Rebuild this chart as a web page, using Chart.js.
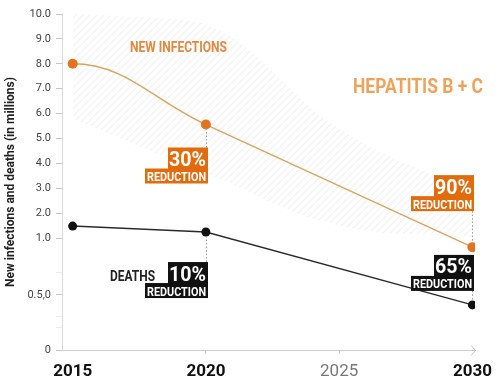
<!DOCTYPE html>
<html><head><meta charset="utf-8">
<script src="https://cdn.jsdelivr.net/npm/chart.js@4.4.0/dist/chart.umd.min.js"></script>
<style>html,body{margin:0;padding:0;background:#fff}#wrap{width:500px;height:383px;position:relative}</style>
</head><body><div id="wrap"><canvas id="c" width="500" height="383" style="width:500px;height:383px"></canvas></div>
<script>
// ---------- data ----------
const years = [2015, 2020, 2030];
const newInfections = [8.0, 5.56, 0.92];
const deaths = [1.48, 1.24, 0.41];

const bandYears = [2015, 2020, 2025, 2030];
const bandUpper = [10, 9.6, 5.4, 2.8];
const bandLower = [5.8, 3.6, 1.5, 1.05];

const yTickValues = [0, 0.2, 0.3, 0.5, 0.7, 1, 2, 3, 4, 5, 6, 7, 8, 9, 10];
const yTickLabels = ['0', '', '', '0.5,0', '', '1.0', '2.0', '3.0', '4.0', '5.0', '6.0', '7.0', '8.0', '9.0', '10.0'];
const xTickValues = [2015, 2020, 2025, 2030];
const xTickLabels = ['2015', '2020', '2025', '2030'];

const seriesNames = ['NEW INFECTIONS', 'DEATHS'];
const reductionLabels = ['30%', '10%', '90%', '65%'];
const reductionSub = 'REDUCTION';
const chartTitle = 'HEPATITIS B + C';
const yTitle = 'New infections and deaths (in millions)';

// ---------- broken (piecewise) y scale ----------
const BREAK_VALUES = [0, 0.5, 1, 10];
const BREAK_FRACS = [0, 0.1637, 0.3333, 1];
class BrokenScale extends Chart.LinearScale {
  static id = 'broken';
  static defaults = {};
  toDecimal(v) {
    const n = BREAK_VALUES.length;
    for (let i = 1; i < n; i++) {
      if (v <= BREAK_VALUES[i] || i === n - 1) {
        const t = (v - BREAK_VALUES[i - 1]) / (BREAK_VALUES[i] - BREAK_VALUES[i - 1]);
        return BREAK_FRACS[i - 1] + t * (BREAK_FRACS[i] - BREAK_FRACS[i - 1]);
      }
    }
    return 0;
  }
  getPixelForValue(v) { return this.getPixelForDecimal(this.toDecimal(v)); }
  getValueForPixel(p) {
    const d = this.getDecimalForPixel(p);
    for (let i = 1; i < BREAK_FRACS.length; i++) {
      if (d <= BREAK_FRACS[i] || i === BREAK_FRACS.length - 1) {
        const t = (d - BREAK_FRACS[i - 1]) / (BREAK_FRACS[i] - BREAK_FRACS[i - 1]);
        return BREAK_VALUES[i - 1] + t * (BREAK_VALUES[i] - BREAK_VALUES[i - 1]);
      }
    }
    return 0;
  }
}
Chart.register(BrokenScale);

// ---------- styling ----------
const ORANGE = '#e26b0e';
const ORANGE_LINE = '#d9a45e';
const BLACK = '#111111';
const FONT = 'Roboto, "Liberation Sans", sans-serif';

function makeHatch() {
  const s = 7;
  const c = document.createElement('canvas');
  c.width = s; c.height = s;
  const g = c.getContext('2d');
  g.strokeStyle = 'rgba(195,195,195,0.18)';
  g.lineWidth = 1.5;
  g.beginPath();
  g.moveTo(0, s); g.lineTo(s, 0);
  g.moveTo(-2, 2); g.lineTo(2, -2);
  g.moveTo(s - 2, s + 2); g.lineTo(s + 2, s - 2);
  g.stroke();
  return g.createPattern(c, 'repeat');
}

const pts = (xs, ys) => xs.map((x, i) => ({ x: x, y: ys[i] }));

// flatten the start of the infections curve
const curvePlugin = {
  id: 'curveShape',
  beforeDatasetDraw(chart, args) {
    if (args.index !== 0) return;
    const meta = args.meta;
    meta.dataset.updateControlPoints(chart.chartArea, 'x');
    const p = meta.data[0];
    p.cp2y = p.y;
    meta.dataset._path = undefined;
  }
};

const annotations = [
  { ds: 0, idx: 1, label: 0, color: ORANGE, mode: 'below', off: 23 },
  { ds: 1, idx: 1, label: 1, color: BLACK, mode: 'below', off: 30 },
  { ds: 0, idx: 2, label: 2, color: ORANGE, mode: 'above', off: 36 },
  { ds: 1, idx: 2, label: 3, color: BLACK, mode: 'above', off: 14 }
];

const overlayPlugin = {
  id: 'overlay',
  afterDatasetsDraw(chart) {
    const ctx = chart.ctx;
    const area = chart.chartArea;
    ctx.save();
    // axis arrow
    ctx.strokeStyle = '#c4c4c4'; ctx.lineWidth = 1;
    ctx.beginPath();
    ctx.moveTo(area.right - 4, area.bottom - 4.5);
    ctx.lineTo(area.right + 0.5, area.bottom + 0.5);
    ctx.lineTo(area.right - 4, area.bottom + 5.5);
    ctx.stroke();

    // reduction boxes
    annotations.forEach(a => {
      const p = chart.getDatasetMeta(a.ds).data[a.idx];
      const right = Math.round(p.x) + 2;
      const bigH = 21, smallH = 15;
      const bigW = 40, smallW = 63;
      let top;
      if (a.mode === 'below') top = p.y + a.off; else top = p.y - a.off - bigH - smallH;
      const bottom = top + bigH + smallH;
      ctx.strokeStyle = '#9a9a9a';
      ctx.lineWidth = 1;
      ctx.setLineDash([1.5, 2]);
      ctx.beginPath();
      const lx = right - 1.5;
      if (a.mode === 'below') { ctx.moveTo(lx, p.y + 4); ctx.lineTo(lx, top); }
      else { ctx.moveTo(lx, bottom); ctx.lineTo(lx, p.y - 4); }
      ctx.stroke();
      ctx.setLineDash([]);
      ctx.fillStyle = a.color;
      ctx.fillRect(right - bigW, top, bigW, bigH + 1);
      ctx.fillRect(right - smallW, top + bigH, smallW, smallH);
      ctx.fillStyle = '#fff';
      ctx.textAlign = 'right';
      ctx.textBaseline = 'alphabetic';
      ctx.font = 'bold 20px ' + FONT;
      ctx.fillText(reductionLabels[a.label], right - 2, top + bigH - 2.5, bigW - 3);
      ctx.font = 'bold 12.5px ' + FONT;
      ctx.fillText(reductionSub, right - 2, top + bigH + smallH - 2.5, smallW - 4);
    });

    ctx.textAlign = 'left';
    ctx.textBaseline = 'middle';
    ctx.fillStyle = '#e0893f';
    ctx.font = 'bold 14px ' + FONT;
    ctx.fillText(seriesNames[0], 130, 48, 97);
    ctx.fillStyle = '#222';
    ctx.font = 'bold 14px ' + FONT;
    ctx.fillText(seriesNames[1], 110, 277, 45);
    ctx.fillStyle = '#efa35a';
    ctx.font = 'bold 20px ' + FONT;
    ctx.fillText(chartTitle, 353, 88, 130);
    ctx.restore();
  }
};

const hatch = makeHatch();

new Chart(document.getElementById('c'), {
  type: 'line',
  data: {
    datasets: [
      {
        label: seriesNames[0], data: pts(years, newInfections), order: 1,
        borderColor: ORANGE_LINE, borderWidth: 1.4, tension: 0.4,
        pointRadius: 5, pointBackgroundColor: '#e2731f', pointBorderWidth: 0, fill: false
      },
      {
        label: seriesNames[1], data: pts(years, deaths), order: 2,
        borderColor: '#2a2a2a', borderWidth: 1.4, tension: 0,
        pointRadius: 4.5, pointBackgroundColor: BLACK, pointBorderWidth: 0, fill: false
      },
      {
        label: 'band upper', data: pts(bandYears, bandUpper), order: 5,
        borderWidth: 0, pointRadius: 0, tension: 0.4, backgroundColor: hatch, fill: '+1'
      },
      {
        label: 'band lower', data: pts(bandYears, bandLower), order: 6,
        borderWidth: 0, pointRadius: 0, tension: 0.4, fill: false
      }
    ]
  },
  options: {
    responsive: false,
    animation: false,
    devicePixelRatio: 1,
    layout: { autoPadding: false, padding: { top: 14, right: 17, left: 0, bottom: 0 } },
    plugins: { legend: { display: false }, tooltip: { enabled: false } },
    scales: {
      x: {
        type: 'linear', min: 2014.6, max: 2030.1,
        afterFit: s => { s.height = 33; },
        afterBuildTicks: s => { s.ticks = xTickValues.map(v => ({ value: v })); },
        border: { color: '#cdcdcd', width: 1 },
        grid: {
          drawOnChartArea: false, tickLength: 4,
          tickColor: ctx => (ctx.tick && (ctx.tick.value === 2020 || ctx.tick.value === 2025)) ? '#c8c8c8' : 'rgba(0,0,0,0)'
        },
        ticks: {
          autoSkip: false, maxRotation: 0, padding: 8,
          callback: (v) => xTickLabels[xTickValues.indexOf(v)],
          font: ctx => ({ family: FONT, size: 17, weight: (ctx.tick && ctx.tick.value === 2025) ? 'normal' : 'bold' }),
          color: ctx => (ctx.tick && ctx.tick.value === 2025) ? '#777' : '#111'
        }
      },
      y: {
        type: 'broken', min: 0, max: 10,
        afterFit: s => { s.width = 62; },
        afterBuildTicks: s => { s.ticks = yTickValues.map(v => ({ value: v })); },
        border: { color: '#dadada', width: 1 },
        grid: {
          drawOnChartArea: false, tickLength: 6,
          tickColor: ctx => yTickLabels[ctx.index] === '' ? '#ececec' : '#c6c6c6'
        },
        ticks: {
          autoSkip: false, padding: 5, color: '#444',
          font: { family: FONT, size: 11 },
          callback: (v) => yTickLabels[yTickValues.indexOf(v)]
        },
        title: {
          display: true, text: yTitle, color: '#222',
          font: { family: FONT, size: 12, weight: 'bold' },
          padding: { top: 4, bottom: 0 }
        }
      }
    }
  },
  plugins: [curvePlugin, overlayPlugin]
});
</script>
</body></html>
